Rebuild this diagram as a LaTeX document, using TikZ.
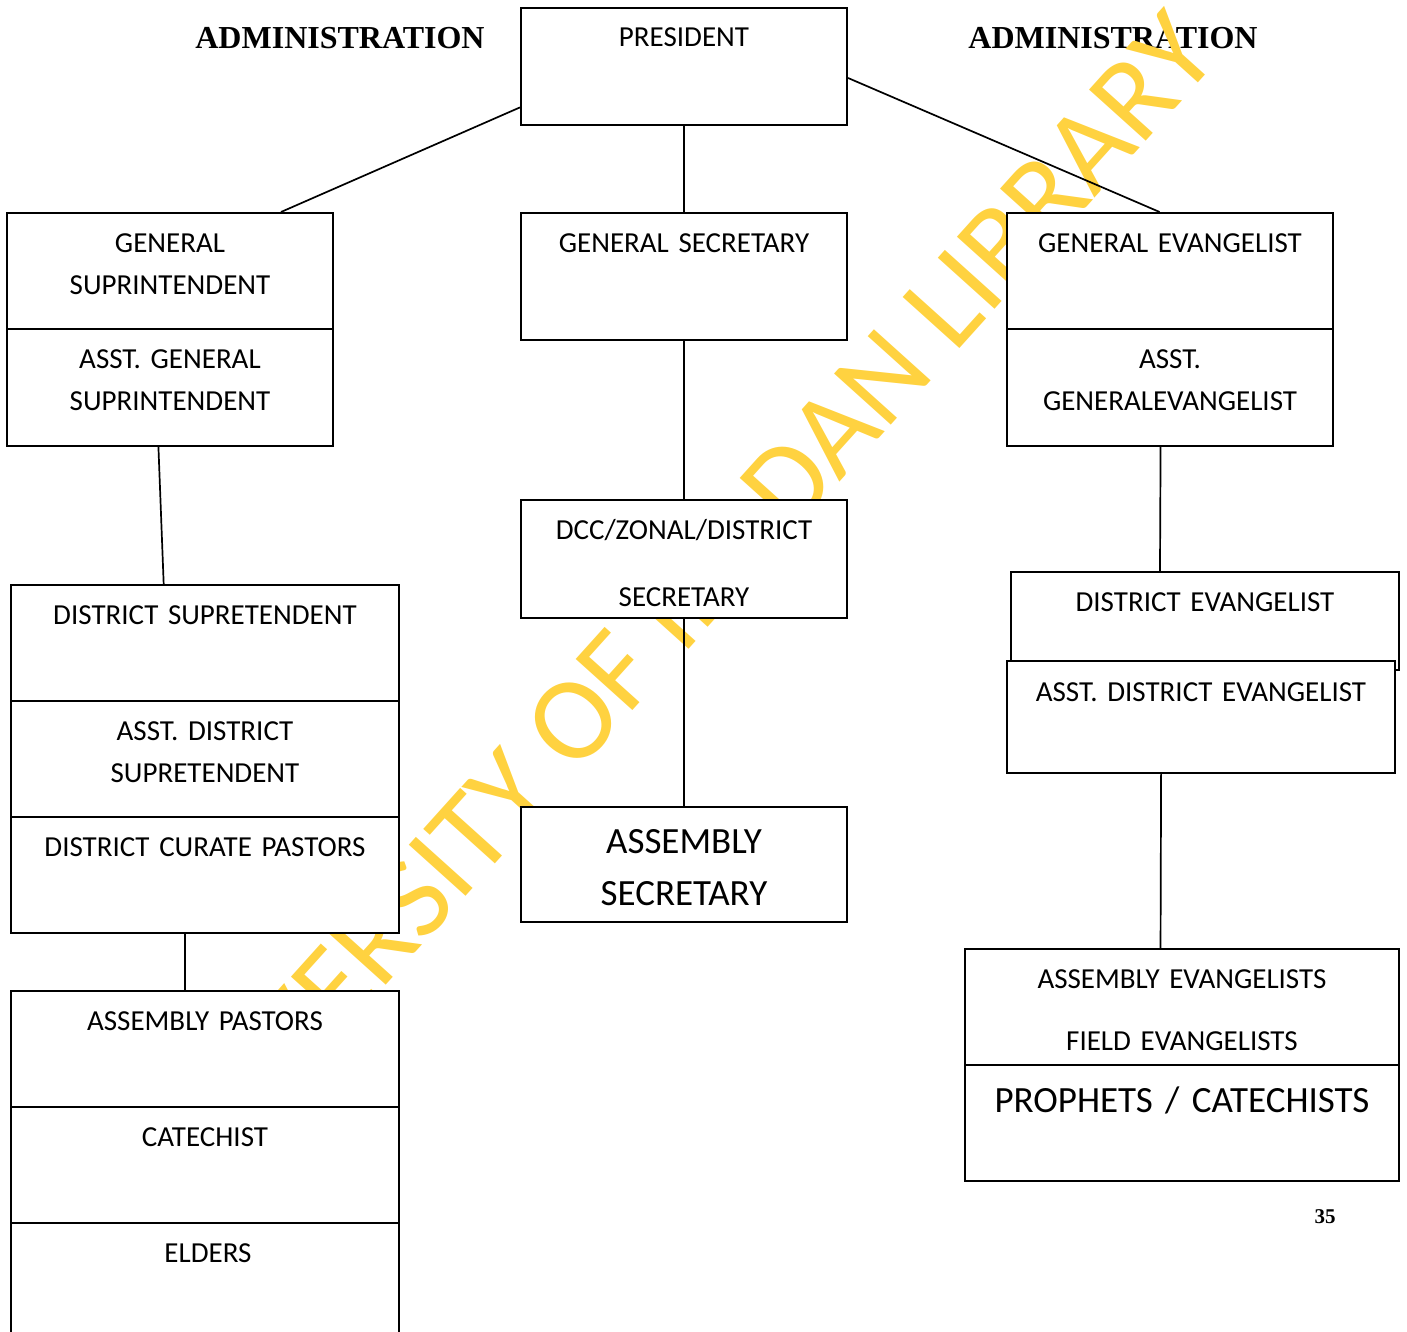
\documentclass[tikz,border=0pt]{standalone}
\usepackage{fontspec}
\setmainfont{Carlito}
\newfontfamily\headfont{Liberation Serif}
\usetikzlibrary{positioning}
\definecolor{wmark}{RGB}{255,210,64}

\begin{document}
\begin{tikzpicture}[x=1pt, y=-1pt,
  box/.style={draw, line width=2pt, fill=white, inner sep=0pt},
  lbl/.style={anchor=base, text width=#1, align=center, inner sep=0pt,
    font=\fontsize{29}{42}\selectfont},
  lbl/.default=320pt,
  big/.style={lbl=#1, font=\fontsize{37}{52}\selectfont},
  big/.default=320pt,
  head/.style={anchor=base, inner sep=0pt, font=\headfont\bfseries\fontsize{32}{36}\selectfont},
  link/.style={line width=1.7pt}
]
\useasboundingbox (0,0) rectangle (1407,1332);

% headings and watermark
\node[head] (adml) at (340,49) {ADMINISTRATION};
\node[head] (admr) at (1113,49) {ADMINISTRATION};
\node[rotate=48, anchor=base, inner sep=0pt, text=wmark,
  font=\fontsize{119}{119}\selectfont] (wm) at (698,639) {UNIVERSITY OF IBADAN LIBRARY};

% boxes
\node[box, minimum width=326pt, minimum height=117pt] (pres) at (684,66.5) {};
\node[box, minimum width=326pt, minimum height=116pt] (gsup) at (170,271) {};
\node[box, minimum width=326pt, minimum height=117pt] (agsup) at (170,387.5) {};
\node[box, minimum width=326pt, minimum height=127pt] (gsec) at (684,276.5) {};
\node[box, minimum width=326pt, minimum height=116pt] (gev) at (1170,271) {};
\node[box, minimum width=326pt, minimum height=117pt] (agev) at (1170,387.5) {};
\node[box, minimum width=326pt, minimum height=118pt] (dcc) at (684,559) {};
\node[box, minimum width=326pt, minimum height=115pt] (asec) at (684,864.5) {};
\node[box, minimum width=388pt, minimum height=116pt] (dsup) at (205,643) {};
\node[box, minimum width=388pt, minimum height=116pt] (adsup) at (205,759) {};
\node[box, minimum width=388pt, minimum height=116pt] (cur) at (205,875) {};
\node[box, minimum width=388pt, minimum height=116pt] (apast) at (205,1049) {};
\node[box, minimum width=388pt, minimum height=116pt] (cat) at (205,1165) {};
\node[box, minimum width=388pt, minimum height=116pt] (eld) at (205,1281) {};
\node[box, minimum width=388pt, minimum height=98pt] (dev) at (1205,621) {};
\node[box, minimum width=388pt, minimum height=112pt] (adev) at (1201,717) {};
\node[box, minimum width=434pt, minimum height=116pt] (aev) at (1182,1007) {};
\node[box, minimum width=434pt, minimum height=116pt] (proph) at (1182,1123) {};

% connectors
\draw[link] (pres.194) -- (gsup.28);
\draw[link] (pres.south) -- (gsec.north);
\draw[link] (pres.356) -- (gev.100);
\draw[link] (gsec.south) -- (dcc.north);
\draw[link] (dcc.south) -- (asec.north);
\draw[link] (agsup.259) -- (dsup.125);
\draw[link] (cur.251) -- (apast.109);
\draw[link] (agev.261) -- (dev.132);
\draw[link] (adev.235) -- (aev.110);

% box texts
\node[lbl] at ([yshift=-40pt]pres.north) {PRESIDENT};
\node[lbl] at ([yshift=-40pt]gsup.north) {GENERAL\\SUPRINTENDENT};
\node[lbl] at ([yshift=-40pt]agsup.north) {ASST. GENERAL\\SUPRINTENDENT};
\node[lbl] at ([yshift=-40pt]gsec.north) {GENERAL SECRETARY};
\node[lbl] at ([yshift=-40pt]gev.north) {GENERAL EVANGELIST};
\node[lbl] at ([yshift=-40pt]agev.north) {ASST.\\GENERALEVANGELIST};
\node[lbl] at ([yshift=-40pt]dcc.north) {DCC/ZONAL/DISTRICT\\[25pt]SECRETARY};
\node[big] at ([yshift=-47pt]asec.north) {ASSEMBLY\\SECRETARY};
\node[lbl=380pt] at ([yshift=-40pt]dsup.north) {DISTRICT SUPRETENDENT};
\node[lbl=380pt] at ([yshift=-40pt]adsup.north) {ASST. DISTRICT\\SUPRETENDENT};
\node[lbl=380pt] at ([yshift=-40pt]cur.north) {DISTRICT CURATE PASTORS};
\node[lbl=380pt] at ([yshift=-40pt]apast.north) {ASSEMBLY PASTORS};
\node[lbl=380pt] at ([yshift=-40pt]cat.north) {CATECHIST};
\node[lbl=380pt] at ([xshift=3pt, yshift=-40pt]eld.north) {ELDERS};
\node[lbl=380pt] at ([yshift=-40pt]dev.north) {DISTRICT EVANGELIST};
\node[lbl=380pt] at ([yshift=-41pt]adev.north) {ASST. DISTRICT EVANGELIST};
\node[lbl=420pt] at ([yshift=-40pt]aev.north) {ASSEMBLY EVANGELISTS\\[20pt]FIELD EVANGELISTS};
\node[big=420pt] at ([yshift=-48pt]proph.north) {PROPHETS / CATECHISTS};

\node[anchor=base, inner sep=0pt, font=\headfont\bfseries\fontsize{21}{24}\selectfont] (pnum) at (1325,1223) {35};
\end{tikzpicture}
\end{document}
